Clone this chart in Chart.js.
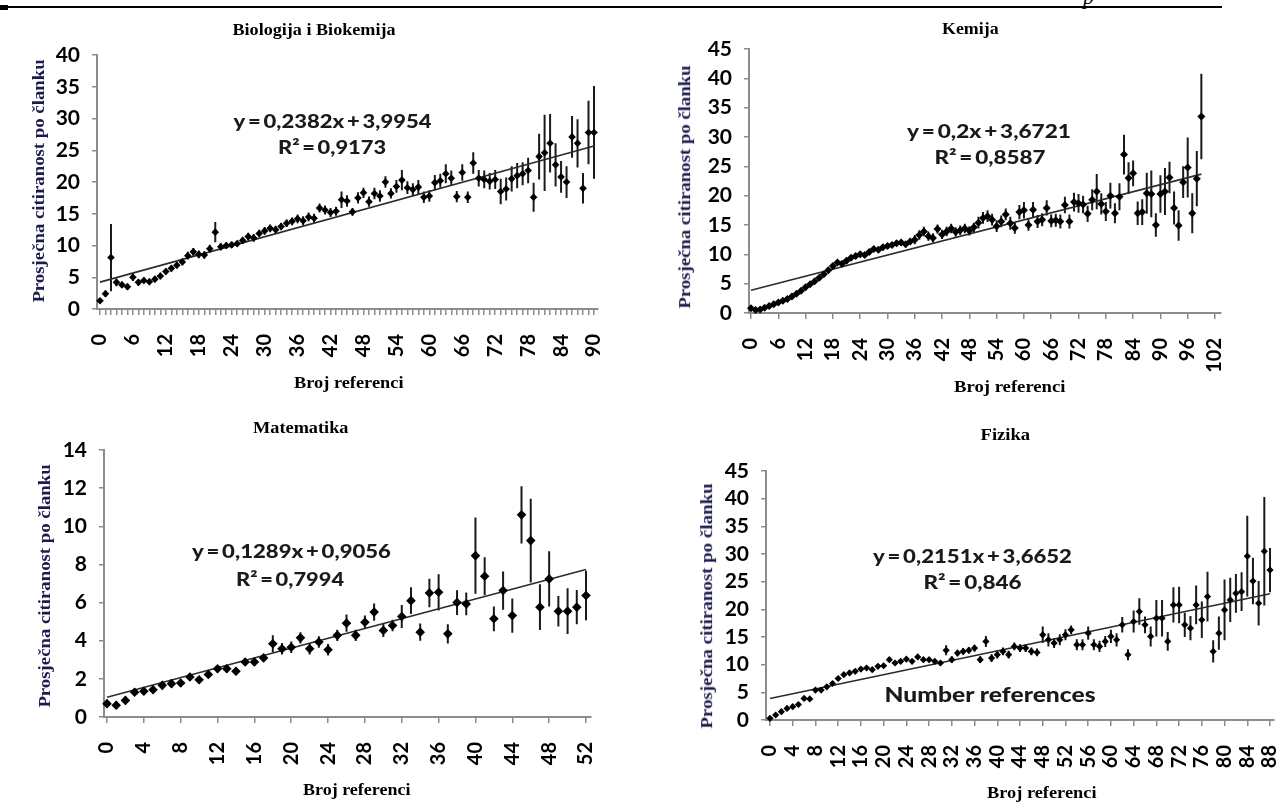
<!DOCTYPE html>
<html lang="hr">
<head>
<meta charset="UTF-8" />
<title>Prosječna citiranost po članku</title>
<script src="https://cdn.jsdelivr.net/npm/chart.js"></script>
<style>
  body { margin: 0; background: #fff; }
  #page { position: relative; width: 1276px; height: 805px; overflow: hidden; background: #fff; }
  canvas { position: absolute; }
  .txt { position: absolute; white-space: nowrap; line-height: 1; }
  .rule { position: absolute; background: #000; }
</style>
</head>
<body>
<div id="page">
  <div class="rule" style="left:0;top:6px;width:1222px;height:2px"></div>
  <div class="rule" style="left:0;top:5px;width:8px;height:5px"></div>
  <div class="txt" style="left:1083px;top:-16px;font:italic 22px 'Liberation Serif';">p</div>
  <canvas id="c0" width="640" height="385" style="left:0;top:15px"></canvas>
  <canvas id="c1" width="680" height="390" style="left:640px;top:10px"></canvas>
  <canvas id="c2" width="640" height="395" style="left:0;top:410px"></canvas>
  <canvas id="c3" width="690" height="375" style="left:640px;top:430px"></canvas>
</div>

<script>
  const panelTitles = ['Biologija i Biokemija', 'Kemija', 'Matematika', 'Fizika'];
  const yAxisTitle = 'Prosječna citiranost po članku';
  const xAxisTitle = 'Broj referenci';
  const noteText = 'Number references';

  const yMax = [40, 45, 14, 45];
  const yStep = [5, 5, 2, 5];
  const xLabelMax = [90, 102, 52, 88];
  const xLabelStep = [6, 6, 4, 4];
  const xTickStep = [1, 6, 4, 4];

  const trendSlope = [0.2382, 0.2, 0.1289, 0.2151];
  const trendIntercept = [3.9954, 3.6721, 0.9056, 3.6652];
  const trendR2 = [0.9173, 0.8587, 0.7994, 0.846];

  // Biologija i Biokemija
  const bioY = [1.3, 2.4, 8.1, 4.2, 3.8, 3.5, 5.0, 4.2, 4.5, 4.3,
    4.7, 5.2, 5.9, 6.4, 6.9, 7.4, 8.4, 9.0, 8.6, 8.5,
    9.5, 12.1, 9.8, 10.0, 10.1, 10.3, 10.8, 11.4, 11.2, 11.9,
    12.3, 12.7, 12.5, 13.0, 13.5, 13.8, 14.2, 13.9, 14.5, 14.3,
    15.9, 15.6, 15.2, 15.4, 17.2, 17.0, 15.3, 17.5, 18.3, 16.9,
    18.2, 17.8, 20.0, 18.2, 19.3, 20.3, 19.1, 18.8, 19.2, 17.6,
    17.8, 19.9, 20.2, 21.3, 20.6, 17.7, 21.5, 17.6, 23.0, 20.6,
    20.4, 20.1, 20.4, 18.5, 18.9, 20.5, 21.0, 21.3, 21.8, 17.6,
    24.0, 24.6, 26.1, 22.7, 20.8, 20.0, 27.1, 26.1, 19.0, 27.8,
    27.8];
  const bioErr = [0.4, 0.5, 5.3, 0.6, 0.5, 0.5, 0.6, 0.5, 0.5, 0.5,
    0.5, 0.5, 0.5, 0.5, 0.5, 0.5, 0.6, 0.6, 0.6, 0.6,
    0.6, 1.6, 0.6, 0.5, 0.5, 0.5, 0.5, 0.6, 0.6, 0.6,
    0.6, 0.6, 0.6, 0.6, 0.6, 0.6, 0.7, 0.7, 0.7, 0.7,
    0.7, 0.7, 0.7, 0.7, 1.3, 0.9, 0.6, 0.9, 0.8, 0.8,
    0.9, 0.9, 0.9, 0.8, 1.0, 1.6, 1.0, 1.0, 1.1, 0.9,
    0.9, 1.2, 1.1, 1.5, 1.2, 0.9, 1.3, 0.9, 1.7, 1.3,
    1.4, 1.3, 1.5, 2.0, 1.8, 2.0, 2.0, 1.8, 2.0, 2.3,
    3.6, 6.0, 4.6, 3.4, 2.5, 2.5, 3.3, 3.8, 2.4, 5.0,
    7.3];

  // Kemija
  const kemY = [0.8, 0.5, 0.6, 0.9, 1.2, 1.5, 1.8, 2.1, 2.4, 2.8,
    3.3, 3.8, 4.4, 4.9, 5.4, 6.0, 6.6, 7.3, 8.0, 8.6,
    8.4, 8.9, 9.4, 9.7, 10.0, 9.9, 10.4, 10.9, 10.8, 11.2,
    11.4, 11.6, 11.9, 12.0, 11.7, 12.2, 12.5, 13.3, 13.9, 13.1,
    12.8, 14.3, 13.4, 13.9, 14.4, 13.8, 14.1, 14.4, 14.0, 14.6,
    15.4, 16.2, 16.5, 15.9, 14.8, 15.6, 16.8, 15.3, 14.5, 17.2,
    17.5, 15.0, 17.6, 15.6, 15.9, 17.9, 15.7, 15.8, 15.6, 18.4,
    15.6, 18.9, 18.7, 18.5, 16.9, 19.3, 20.7, 18.6, 17.3, 20.0,
    17.0, 19.8, 27.0, 23.0, 23.8, 17.0, 17.2, 20.4, 20.3, 15.0,
    20.3, 20.7, 23.1, 17.9, 14.9, 22.3, 24.8, 17.0, 22.9, 33.5];
  const kemErr = [0.4, 0.4, 0.4, 0.4, 0.4, 0.4, 0.4, 0.4, 0.4, 0.4,
    0.4, 0.4, 0.4, 0.4, 0.4, 0.4, 0.4, 0.4, 0.4, 0.4,
    0.4, 0.5, 0.5, 0.5, 0.5, 0.5, 0.5, 0.5, 0.5, 0.5,
    0.5, 0.5, 0.5, 0.5, 0.5, 0.5, 0.8, 0.8, 0.8, 0.8,
    0.8, 0.8, 0.8, 0.8, 0.8, 0.8, 0.8, 0.8, 0.8, 0.8,
    1.0, 1.0, 1.0, 1.0, 1.0, 1.0, 1.0, 1.1, 1.0, 1.2,
    1.4, 1.0, 1.3, 1.1, 1.1, 1.3, 1.1, 1.1, 1.2, 1.4,
    1.2, 1.6, 1.6, 1.5, 1.4, 1.8, 3.0, 1.8, 1.6, 2.2,
    1.7, 2.3, 3.4, 2.7, 2.2, 2.0, 2.2, 3.5, 4.0, 2.0,
    3.2, 4.0, 2.7, 2.8, 2.6, 2.7, 5.1, 3.4, 4.7, 7.3];

  // Matematika
  const matY = [0.70, 0.62, 0.87, 1.30, 1.35, 1.43, 1.66, 1.75, 1.78, 2.10,
    1.95, 2.23, 2.53, 2.53, 2.40, 2.88, 2.88, 3.10, 3.84, 3.58,
    3.66, 4.15, 3.58, 3.93, 3.53, 4.28, 4.92, 4.28, 4.97, 5.50,
    4.54, 4.80, 5.27, 6.10, 4.45, 6.50, 6.54, 4.36, 6.00, 5.93,
    8.46, 7.38, 5.15, 6.63, 5.32, 10.60, 9.25, 5.76, 7.24, 5.55,
    5.55, 5.76, 6.37];
  const matErr = [0.2, 0.2, 0.2, 0.2, 0.2, 0.2, 0.2, 0.2, 0.2, 0.2,
    0.2, 0.2, 0.2, 0.2, 0.2, 0.2, 0.2, 0.2, 0.45, 0.3,
    0.3, 0.3, 0.3, 0.3, 0.3, 0.3, 0.45, 0.3, 0.35, 0.45,
    0.35, 0.3, 0.6, 0.7, 0.45, 0.75, 0.95, 0.5, 0.65, 0.6,
    2.0, 1.0, 0.65, 1.0, 0.9, 1.5, 2.2, 1.2, 1.45, 0.8,
    1.2, 0.9, 1.3];

  // Fizika
  const fizY = [0.3, 0.9, 1.5, 2.1, 2.4, 2.8, 3.9, 3.8, 5.4, 5.4,
    6.0, 6.6, 7.5, 8.2, 8.5, 8.8, 9.2, 9.4, 9.1, 9.7,
    9.8, 10.9, 10.3, 10.6, 11.0, 10.6, 11.4, 10.9, 10.9, 10.6,
    10.3, 12.6, 10.9, 12.1, 12.4, 12.6, 13.0, 10.9, 14.2, 11.2,
    11.8, 12.4, 11.8, 13.3, 13.0, 13.0, 12.4, 12.2, 15.4, 14.5,
    13.9, 14.5, 15.4, 16.3, 13.6, 13.6, 15.7, 13.6, 13.3, 14.2,
    15.1, 14.5, 17.2, 11.8, 17.8, 19.6, 17.2, 15.1, 18.4, 18.4,
    14.2, 20.8, 20.8, 17.2, 16.6, 20.8, 18.1, 22.3, 12.4, 15.7,
    19.9, 21.7, 22.9, 23.2, 29.6, 25.1, 21.1, 30.5, 27.1];
  const fizErr = [0.4, 0.4, 0.4, 0.4, 0.4, 0.4, 0.4, 0.4, 0.4, 0.4,
    0.4, 0.4, 0.4, 0.4, 0.4, 0.4, 0.4, 0.4, 0.4, 0.4,
    0.4, 0.4, 0.4, 0.4, 0.4, 0.4, 0.4, 0.4, 0.4, 0.4,
    0.4, 0.9, 0.6, 0.6, 0.6, 0.6, 0.6, 0.6, 1.0, 0.7,
    0.7, 0.7, 0.7, 0.7, 0.7, 0.7, 0.7, 0.7, 1.5, 1.2,
    0.9, 1.0, 1.0, 0.8, 1.0, 1.0, 1.2, 1.0, 1.0, 1.0,
    1.2, 1.2, 1.4, 1.0, 2.0, 2.4, 1.5, 1.8, 3.3, 3.3,
    1.7, 3.2, 3.3, 2.2, 2.2, 3.5, 3.3, 4.5, 2.0, 3.0,
    5.5, 4.0, 3.5, 3.5, 7.3, 4.2, 4.0, 9.8, 4.0];

  const seriesY = [bioY, kemY, matY, fizY];
  const seriesErr = [bioErr, kemErr, matErr, fizErr];

  // page geometry of each panel: canvas box, axis box, pixel of x=0 and of the last x label
  const layout = [
    { canvas: [0, 15, 640, 385], area: [97, 598, 55, 309], x0: 100, xEnd: 594, r: 3.8,
      title: [314, 30, 163], eq: [332, 120, 198], r2: [332, 146, 108], yt: [39, 181, 243], xt: [349, 383, 110] },
    { canvas: [640, 10, 680, 390], area: [749, 1221, 49, 313], x0: 751, xEnd: 1215, r: 4,
      title: [970, 29, 57], eq: [989, 130, 164], r2: [990, 156, 111], yt: [685, 187, 243], xt: [1010, 387, 112] },
    { canvas: [0, 410, 640, 395], area: [104, 591, 450, 717], x0: 107, xEnd: 586, r: 4.8,
      title: [301, 428, 96], eq: [291, 550, 199], r2: [290, 578, 108], yt: [45, 586, 243], xt: [357, 790, 108] },
    { canvas: [640, 430, 690, 375], area: [766, 1274, 471, 720], x0: 770, xEnd: 1270, r: 3.6,
      title: [1005, 435, 50], eq: [972, 555, 199], r2: [972, 581, 98], yt: [707, 606, 245], xt: [1042, 793, 110],
      note: [990, 693, 211] }
  ];

  const axisGrey = '#8c8c8c';
  const xTickFont = { family: 'Lato', weight: 'bold', size: 20 };
  const yTickFont = { family: 'Lato', weight: 'bold', size: 21 };
  const YW = 60, XH = 60;

  function buildChart(i) {
    const L = layout[i];
    const [cl, ct, cw, ch] = L.canvas;
    const [al, ar, at, ab] = L.area;
    const ys = seriesY[i], errs = seriesErr[i];
    const n = ys.length;
    const pxPerUnit = (L.xEnd - L.x0) / xLabelMax[i];

    const points = ys.map((y, k) => ({ x: k, y }));
    const bars = [];
    ys.forEach((y, k) => {
      bars.push({ x: k, y: y - errs[k] }, { x: k, y: y + errs[k] }, { x: k, y: null });
    });
    // Excel numbers the points from 1 in the trend equation
    const trend = [
      { x: 0, y: trendIntercept[i] + trendSlope[i] * 1 },
      { x: n - 1, y: trendIntercept[i] + trendSlope[i] * n }
    ];
    const xTicks = [];
    for (let v = 0; v <= xLabelMax[i]; v += xTickStep[i]) xTicks.push({ value: v });

    new Chart(document.getElementById('c' + i), {
      type: 'scatter',
      data: {
        datasets: [
          { type: 'line', data: bars, borderColor: '#1a1a1a', borderWidth: 2, pointRadius: 0,
            spanGaps: false, clip: false, order: 3 },
          { type: 'line', data: trend, borderColor: '#2b2b2b', borderWidth: 1.6, pointRadius: 0,
            clip: false, order: 2 },
          { data: points, pointStyle: 'rectRot', pointRadius: L.r, backgroundColor: '#000',
            borderColor: '#000', borderWidth: 0, clip: false, order: 1 }
        ]
      },
      options: {
        responsive: false,
        animation: false,
        devicePixelRatio: 1,
        layout: {
          padding: { left: al - cl - YW, right: cw - (ar - cl), top: at - ct, bottom: ch - (ab - ct) - XH }
        },
        plugins: { legend: { display: false }, tooltip: { enabled: false } },
        scales: {
          x: {
            type: 'linear',
            bounds: 'data',
            min: (al - L.x0) / pxPerUnit,
            max: (ar - L.x0) / pxPerUnit,
            afterFit: s => { s.height = XH; },
            afterBuildTicks: s => { s.ticks = xTicks; },
            grid: { drawOnChartArea: false, drawTicks: true, tickLength: 6, color: axisGrey, lineWidth: 1.5 },
            border: { color: axisGrey, width: 2 },
            ticks: {
              autoSkip: false, minRotation: 90, maxRotation: 90, padding: 19, color: '#000', font: xTickFont,
              callback: v => (v % xLabelStep[i] === 0 ? String(v) : '')
            }
          },
          y: {
            min: 0,
            max: yMax[i],
            afterFit: s => { s.width = YW; },
            grid: { drawOnChartArea: false, drawTicks: true, tickLength: 5, color: axisGrey, lineWidth: 1.5 },
            border: { color: axisGrey, width: 2 },
            ticks: { stepSize: yStep[i], autoSkip: false, padding: 12, color: '#000', font: yTickFont }
          }
        }
      }
    });
  }

  const page = document.getElementById('page');
  function place(text, spec, font, color, rotated) {
    const [cx, cy, w] = spec;
    const el = document.createElement('div');
    el.className = 'txt';
    el.textContent = text;
    el.style.font = font;
    el.style.color = color;
    page.appendChild(el);
    const bw = el.offsetWidth, bh = el.offsetHeight;
    el.style.left = (cx - bw / 2) + 'px';
    el.style.top = (cy - bh / 2) + 'px';
    el.style.transform = (rotated ? 'rotate(-90deg) ' : '') + 'scaleX(' + (w / bw) + ')';
  }

  const fmt = v => String(v).replace('.', ',');
  const thin = '\u2009';

  for (let i = 0; i < 4; i++) {
    buildChart(i);
    const L = layout[i];
    place(panelTitles[i], L.title, "bold 16px 'Liberation Serif'", '#000', false);
    place('y' + thin + '=' + thin + fmt(trendSlope[i]) + 'x' + thin + '+' + thin + fmt(trendIntercept[i]),
      L.eq, '900 19px Lato', '#1a1a1a', false);
    place('R²' + thin + '=' + thin + fmt(trendR2[i]), L.r2, '900 19px Lato', '#1a1a1a', false);
    place(yAxisTitle, L.yt, "bold 17px 'Liberation Serif'", '#1b1b4d', true);
    place(xAxisTitle, L.xt, "bold 16px 'Liberation Serif'", '#000', false);
    if (L.note) place(noteText, L.note, '900 21px Lato', '#1a1a1a', false);
  }
</script>
</body>
</html>
